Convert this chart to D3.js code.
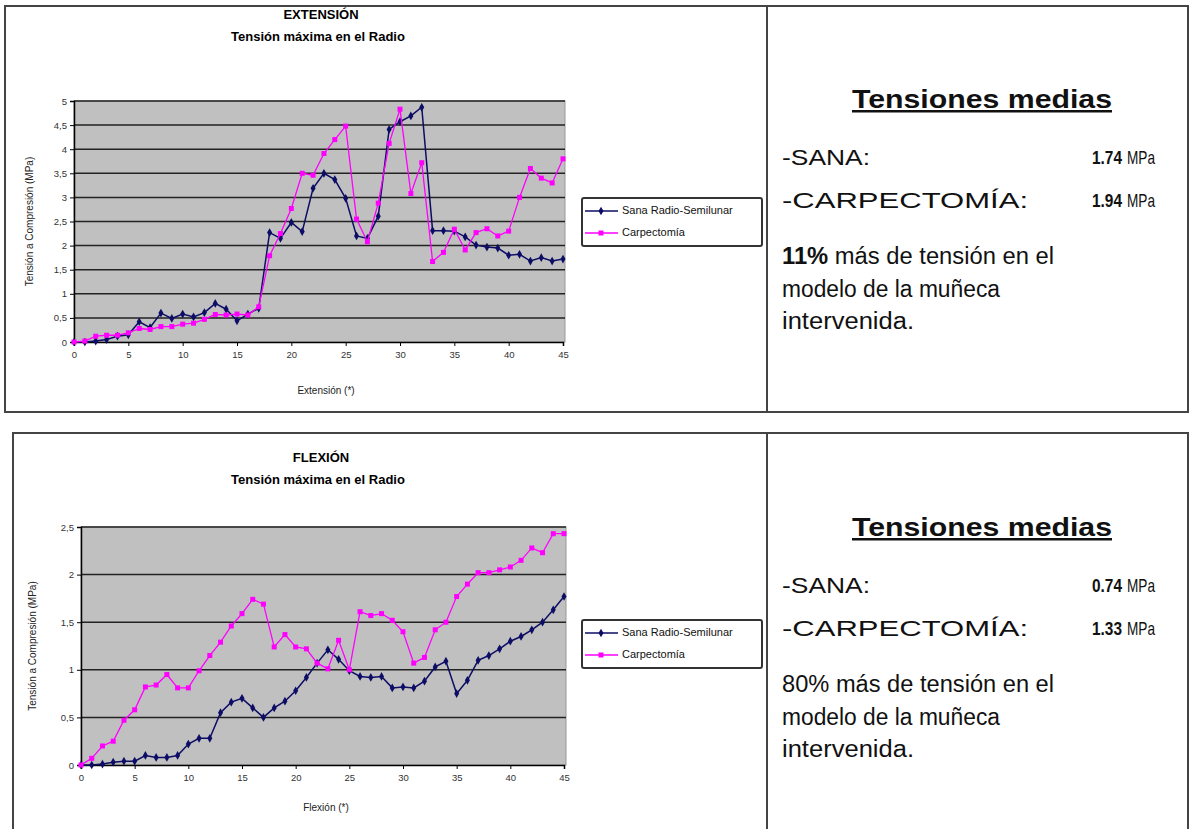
<!DOCTYPE html>
<html>
<head>
<meta charset="utf-8">
<script src="https://cdn.jsdelivr.net/npm/d3@7"></script>
<style>
  body { margin: 0; background: #fff; }
  svg { display: block; font-family: "Liberation Sans", Arial, sans-serif; }
</style>
</head>
<body>
<svg id="chart" width="1192" height="829"></svg>
<script>
// grados de movimiento (eje x)
const grados = [0,1,2,3,4,5,6,7,8,9,10,11,12,13,14,15,16,17,18,19,20,21,22,23,24,25,26,27,28,29,30,31,32,33,34,35,36,37,38,39,40,41,42,43,44,45];

// EXTENSIÓN - tensión (MPa)
const extSana = [0,0,0.02,0.05,0.12,0.15,0.42,0.3,0.6,0.49,0.58,0.52,0.61,0.8,0.68,0.44,0.58,0.7,2.27,2.15,2.48,2.29,3.19,3.5,3.37,2.98,2.2,2.15,2.61,4.41,4.57,4.69,4.87,2.31,2.31,2.3,2.18,2.01,1.97,1.95,1.8,1.82,1.68,1.75,1.68,1.72];
const extCarp = [0,0.02,0.12,0.14,0.14,0.19,0.28,0.26,0.32,0.32,0.37,0.39,0.47,0.57,0.56,0.58,0.56,0.73,1.79,2.25,2.77,3.5,3.46,3.91,4.2,4.48,2.55,2.08,2.88,4.12,4.83,3.08,3.72,1.67,1.86,2.34,1.91,2.27,2.35,2.2,2.3,3.0,3.6,3.4,3.3,3.8];

// FLEXIÓN - tensión (MPa)
const flxSana = [0,0,0.01,0.03,0.04,0.04,0.1,0.08,0.08,0.1,0.22,0.28,0.28,0.55,0.66,0.7,0.6,0.5,0.6,0.67,0.78,0.92,1.07,1.21,1.11,0.99,0.93,0.92,0.93,0.81,0.82,0.81,0.88,1.03,1.09,0.75,0.89,1.1,1.15,1.22,1.3,1.35,1.42,1.5,1.63,1.77];
const flxCarp = [0,0.07,0.2,0.25,0.47,0.58,0.82,0.84,0.95,0.81,0.81,0.99,1.15,1.29,1.46,1.59,1.74,1.69,1.24,1.37,1.24,1.22,1.07,1.01,1.31,1.0,1.61,1.57,1.59,1.52,1.4,1.07,1.13,1.42,1.5,1.77,1.9,2.02,2.02,2.05,2.08,2.15,2.28,2.23,2.43,2.43];

const series = ["Sana Radio-Semilunar", "Carpectomía"];
const xTicks = [0,5,10,15,20,25,30,35,40,45];
const extYTicks = [0,0.5,1,1.5,2,2.5,3,3.5,4,4.5,5];
const flxYTicks = [0,0.5,1,1.5,2,2.5];

const medias = [
  { sana: "1.74", carp: "1.94", pct: "11%", pctBold: true },
  { sana: "0.74", carp: "1.33", pct: "80%", pctBold: false }
];

const svg = d3.select("#chart");
const fmt = v => String(v).replace(".", ",");
const navy = "#0d0d66";
const pink = "#ff00ff";

function panel(box) {
  svg.append("rect")
    .attr("x", box.x).attr("y", box.y)
    .attr("width", box.w).attr("height", box.h)
    .attr("fill", "none").attr("stroke", "#444").attr("stroke-width", 2);
  svg.append("line")
    .attr("x1", 767).attr("x2", 767)
    .attr("y1", box.y).attr("y2", box.y + box.h)
    .attr("stroke", "#444").attr("stroke-width", 2);
}

function drawChart(cfg) {
  const x = d3.scaleLinear().domain([0, 45]).range([cfg.left, cfg.right]);
  const y = d3.scaleLinear().domain([0, cfg.ymax]).range([cfg.bottom, cfg.top]);

  const g = svg.append("g");

  g.append("rect")
    .attr("x", cfg.left).attr("y", cfg.top)
    .attr("width", cfg.right - cfg.left + 2).attr("height", cfg.bottom - cfg.top)
    .attr("fill", "#c0c0c0").attr("stroke", "#999").attr("stroke-width", 1);

  // lineas de rejilla
  g.selectAll(".grid")
    .data(cfg.yTicks.filter(d => d > 0))
    .enter().append("line")
    .attr("x1", cfg.left).attr("x2", cfg.right + 2)
    .attr("y1", d => y(d)).attr("y2", d => y(d))
    .attr("stroke", "#222").attr("stroke-width", 1.5);

  const yAxis = g.append("g")
    .attr("transform", `translate(${cfg.left},0)`)
    .call(d3.axisLeft(y).tickValues(cfg.yTicks).tickFormat(fmt).tickSize(4).tickPadding(3));
  const xAxis = g.append("g")
    .attr("transform", `translate(0,${cfg.bottom})`)
    .call(d3.axisBottom(x).tickValues(xTicks).tickSize(4).tickPadding(5));
  [yAxis, xAxis].forEach(a => {
    a.select(".domain").attr("stroke", "#000").attr("stroke-width", 1.5);
    a.selectAll(".tick line").attr("stroke", "#000");
    a.selectAll("text").attr("fill", "#333").style("font-size", "9.5px");
  });

  const line = d3.line().x((d, i) => x(grados[i])).y(d => y(d));

  g.append("path").datum(cfg.sana)
    .attr("d", line).attr("fill", "none").attr("stroke", navy).attr("stroke-width", 1.5);
  g.selectAll(".mS").data(cfg.sana).enter().append("path")
    .attr("transform", (d, i) => `translate(${x(grados[i])},${y(d)})`)
    .attr("d", d3.symbol().type(d3.symbolDiamond).size(22))
    .attr("fill", navy);

  g.append("path").datum(cfg.carp)
    .attr("d", line).attr("fill", "none").attr("stroke", pink).attr("stroke-width", 1.3);
  g.selectAll(".mC").data(cfg.carp).enter().append("rect")
    .attr("x", (d, i) => x(grados[i]) - 2.5).attr("y", d => y(d) - 2.5)
    .attr("width", 5).attr("height", 5)
    .attr("fill", pink);

  // titulos
  g.append("text").attr("x", 321).attr("y", cfg.titleY)
    .attr("text-anchor", "middle").attr("dominant-baseline", "middle")
    .style("font-size", "13px").style("font-weight", "bold")
    .text(cfg.title);
  g.append("text").attr("x", 318).attr("y", cfg.titleY + 22)
    .attr("text-anchor", "middle").attr("dominant-baseline", "middle")
    .style("font-size", "13px").style("font-weight", "bold")
    .text("Tensión máxima en el Radio");

  g.append("text").attr("x", 326).attr("y", cfg.xLabelY)
    .attr("text-anchor", "middle").attr("dominant-baseline", "middle")
    .style("font-size", "10px").attr("fill", "#222")
    .text(cfg.xLabel);

  g.append("text")
    .attr("transform", `translate(${cfg.yLabelX},${(cfg.top + cfg.bottom) / 2}) rotate(-90)`)
    .attr("text-anchor", "middle").attr("dominant-baseline", "middle")
    .style("font-size", "10px").attr("fill", "#222")
    .text("Tensión a Compresión (MPa)");

  // leyenda
  const lg = g.append("g").attr("transform", `translate(582,${cfg.legendY})`);
  lg.append("rect").attr("width", 180).attr("height", 48).attr("rx", 2)
    .attr("fill", "#fff").attr("stroke", "#333").attr("stroke-width", 2);
  series.forEach((s, i) => {
    const yy = 13 + i * 22;
    const col = i === 0 ? navy : pink;
    lg.append("line").attr("x1", 3).attr("x2", 36).attr("y1", yy).attr("y2", yy)
      .attr("stroke", col).attr("stroke-width", 1.5);
    if (i === 0) {
      lg.append("path").attr("transform", `translate(19,${yy})`)
        .attr("d", d3.symbol().type(d3.symbolDiamond).size(22)).attr("fill", col);
    } else {
      lg.append("rect").attr("x", 16.5).attr("y", yy - 2.5).attr("width", 5).attr("height", 5).attr("fill", col);
    }
    lg.append("text").attr("x", 40).attr("y", yy)
      .attr("dominant-baseline", "middle").style("font-size", "11px").attr("fill", "#111")
      .text(s);
  });
}

function drawMedias(m, y0) {
  const g = svg.append("g").attr("fill", "#111");
  g.append("text").attr("x", 852).attr("y", y0 + 9)
    .attr("textLength", 260).attr("lengthAdjust", "spacingAndGlyphs")
    .style("font-size", "25px").style("font-weight", "bold")
    .style("text-decoration", "underline")
    .text("Tensiones medias");

  const rows = [["-SANA:", m.sana, y0 + 58, 88], ["-CARPECTOMÍA:", m.carp, y0 + 101, 246]];
  rows.forEach(r => {
    g.append("text").attr("x", 782).attr("y", r[2] + 8)
      .attr("textLength", r[3]).attr("lengthAdjust", "spacingAndGlyphs")
      .style("font-size", "22px").text(r[0]);
    g.append("text").attr("x", 1092).attr("y", r[2] + 7)
      .attr("textLength", 30).attr("lengthAdjust", "spacingAndGlyphs")
      .style("font-size", "19px").style("font-weight", "bold")
      .text(r[1]);
    g.append("text").attr("x", 1127).attr("y", r[2] + 7)
      .attr("textLength", 28).attr("lengthAdjust", "spacingAndGlyphs")
      .style("font-size", "19px")
      .text("MPa");
  });

  const l1 = g.append("text").attr("x", 782).attr("y", y0 + 165)
    .attr("textLength", 272).attr("lengthAdjust", "spacingAndGlyphs")
    .style("font-size", "23.5px");
  l1.append("tspan").style("font-weight", m.pctBold ? "bold" : "normal").text(m.pct);
  l1.append("tspan").text(" más de tensión en el");
  g.append("text").attr("x", 782).attr("y", y0 + 198)
    .attr("textLength", 218).attr("lengthAdjust", "spacingAndGlyphs")
    .style("font-size", "23.5px").text("modelo de la muñeca");
  g.append("text").attr("x", 782).attr("y", y0 + 230)
    .attr("textLength", 132).attr("lengthAdjust", "spacingAndGlyphs")
    .style("font-size", "23.5px").text("intervenida.");
}

panel({ x: 5, y: 6, w: 1183, h: 406 });
panel({ x: 13, y: 433, w: 1175, h: 400 });

drawChart({
  left: 74, right: 563, top: 101, bottom: 342, ymax: 5,
  yTicks: extYTicks, sana: extSana, carp: extCarp,
  title: "EXTENSIÓN", titleY: 16, xLabel: "Extensión (*)", xLabelY: 391,
  yLabelX: 30, legendY: 198
});

drawChart({
  left: 81, right: 564, top: 527, bottom: 765, ymax: 2.5,
  yTicks: flxYTicks, sana: flxSana, carp: flxCarp,
  title: "FLEXIÓN", titleY: 459, xLabel: "Flexión (*)", xLabelY: 808,
  yLabelX: 33, legendY: 620
});

drawMedias(medias[0], 99);
drawMedias(medias[1], 527);
</script>
</body>
</html>
